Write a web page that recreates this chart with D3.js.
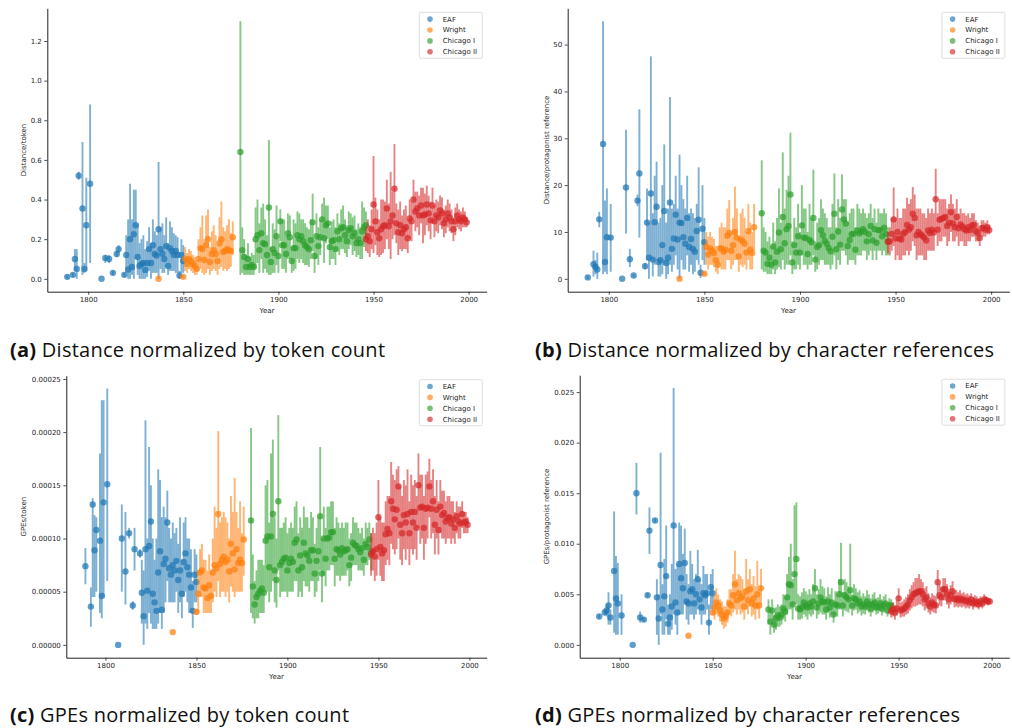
<!DOCTYPE html>
<html lang="en">
<head>
<meta charset="utf-8">
<title>Distance and GPEs over time</title>
<script src="https://cdn.jsdelivr.net/npm/d3@7"></script>
<style>
  body { margin: 0; background: #fff; }
  svg text { font-family: "DejaVu Sans", sans-serif; }
  .caption { font-family: "Open Sans", sans-serif; font-size: 20px; letter-spacing: 0.25px; fill: #111; }
</style>
</head>
<body>
<svg id="fig" width="1012" height="728"></svg>
<script>
  // years per corpus (same for all four panels)
  const eafYears = [1789, 1792, 1793, 1794, 1795, 1797, 1798, 1799, 1801, 1807, 1809, 1811, 1813, 1815, 1816,
    1819, 1820, 1821, 1822, 1823, 1824, 1825, 1826, 1827, 1828, 1829, 1830, 1831, 1832, 1833, 1834, 1835,
    1836, 1837, 1838, 1839, 1840, 1841, 1842, 1843, 1844, 1845, 1846, 1847, 1848, 1849, 1850];
  const wrightYears = [1837, 1850, 1851, 1852, 1853, 1854, 1855, 1856, 1857, 1858, 1859, 1860, 1861, 1862,
    1863, 1864, 1865, 1866, 1867, 1868, 1869, 1870, 1871, 1872, 1873, 1874, 1875, 1876];
  const chicago1Years = [1880, 1881, 1882, 1883, 1884, 1885, 1886, 1887, 1888, 1889, 1890, 1891, 1892, 1893,
    1894, 1895, 1896, 1897, 1898, 1899, 1900, 1901, 1902, 1903, 1904, 1905, 1906, 1907, 1908, 1909, 1910,
    1911, 1912, 1913, 1914, 1915, 1916, 1917, 1918, 1919, 1920, 1921, 1922, 1923, 1924, 1925, 1926, 1927,
    1928, 1929, 1930, 1931, 1932, 1933, 1934, 1935, 1936, 1937, 1938, 1939, 1940, 1941, 1942, 1943, 1944,
    1945, 1946];
  const chicago2Years = [1946, 1947, 1948, 1949, 1950, 1951, 1952, 1953, 1954, 1955, 1956, 1957, 1958, 1959,
    1960, 1961, 1962, 1963, 1964, 1965, 1966, 1967, 1968, 1969, 1970, 1971, 1972, 1973, 1974, 1975, 1976,
    1977, 1978, 1979, 1980, 1981, 1982, 1983, 1984, 1985, 1986, 1987, 1988, 1989, 1990, 1991, 1992, 1993,
    1994, 1995, 1996, 1997, 1998, 1999];

  const seriesNames = ['EAF', 'Wright', 'Chicago I', 'Chicago II'];
  const seriesColors = ['#1f77b4', '#ff7f0e', '#2ca02c', '#d62728'];

  // (a) distance / token  -- [value, low, high]
  const distTokenEAF = [[.01,0,.02],[.02,.01,.03],[.10,.04,.15],[.05,0,.15],[.52,.50,.54],[.355,.02,.69],
    [.05,.03,.08],[.27,.04,.51],[.48,.08,.88],[0,0,0],[.105,.08,.12],[.10,.08,.12],[.03,.02,.04],[.125,.11,.14],
    [.15,.13,.17],[.02,.01,.03],[.12,.03,.22],[.047,0,.3],[.20,0,.48],[.06,.02,.3],[.225,0,.45],[.27,.1,.45],
    [.11,.02,.28],[.065,0,.18],[.075,0,.2],[.08,0,.22],[.045,0,.15],[.08,.01,.19],[.15,.04,.26],[.08,0,.18],
    [.17,.03,.3],[.125,.03,.24],[.118,.03,.22],[.25,0,.59],[.15,.05,.26],[.127,.03,.28],[.10,.03,.22],
    [.165,.06,.31],[.065,.02,.18],[.155,.04,.29],[.14,.04,.26],[.12,.04,.23],[.14,.03,.22],[.12,.03,.21],
    [.017,0,.04],[.12,.03,.2],[.09,.03,.17]];
  const distTokenWright = [[0,0,0],[.01,.005,.015],[.10,.04,.16],[.075,.03,.13],[.10,.05,.15],[.09,.04,.14],
    [.075,.03,.12],[.065,.02,.11],[.05,.02,.09],[.10,.04,.2],[.155,.05,.26],[.15,.03,.32],[.095,.02,.2],
    [.17,.03,.32],[.20,.05,.35],[.085,.02,.16],[.125,.04,.24],[.145,.05,.27],[.125,.04,.22],[.09,.02,.17],
    [.18,.05,.31],[.20,.06,.39],[.135,.04,.26],[.14,.05,.24],[.15,.04,.27],[.145,.05,.3],[.14,.06,.23],[.21,.12,.29]];
  const distTokenChicago1 = [[.64,.02,1.3],[.145,.03,.26],[.11,.02,.2],[.06,.02,.12],[.10,.02,.18],[.06,.02,.11],
    [.07,.02,.13],[.06,.02,.12],[.20,.05,.36],[.22,.08,.4],[.145,.03,.28],[.23,.1,.36],[.18,.03,.38],[.175,.05,.3],
    [.12,.03,.22],[.36,.02,.7],[.085,.02,.16],[.15,.03,.28],[.13,.03,.25],[.215,.07,.37],[.115,.03,.2],[.29,.19,.35],
    [.17,.05,.3],[.17,.05,.3],[.125,.03,.22],[.23,.1,.33],[.21,.1,.32],[.09,.03,.16],[.155,.04,.3],[.155,.05,.28],
    [.22,.1,.34],[.20,.08,.33],[.215,.1,.3],[.19,.08,.3],[.17,.07,.28],[.16,.07,.26],[.15,.06,.25],[.195,.1,.3],
    [.285,.14,.43],[.115,.03,.2],[.215,.1,.33],[.165,.07,.26],[.21,.12,.3],[.30,.22,.38],[.205,.08,.41],
    [.27,.18,.37],[.28,.2,.37],[.16,.07,.26],[.19,.1,.29],[.195,.1,.3],[.15,.07,.26],[.24,.14,.33],[.20,.12,.28],
    [.255,.15,.35],[.26,.15,.37],[.22,.13,.3],[.19,.11,.27],[.245,.15,.34],[.255,.17,.33],[.215,.12,.31],
    [.23,.14,.32],[.18,.11,.25],[.20,.12,.28],[.18,.1,.26],[.24,.1,.39],[.26,.16,.36],[.27,.2,.34]];
  const distTokenChicago2 = [[.20,.14,.26],[.215,.13,.3],[.19,.11,.27],[.25,.15,.35],[.375,.13,.62],[.29,.17,.41],
    [.235,.12,.35],[.205,.11,.3],[.25,.12,.4],[.265,.13,.4],[.27,.15,.39],[.355,.2,.5],[.265,.15,.38],[.29,.1,.54],
    [.32,.2,.44],[.455,.22,.68],[.28,.18,.38],[.235,.12,.35],[.27,.15,.39],[.23,.14,.32],[.25,.15,.35],[.26,.15,.37],
    [.205,.13,.3],[.305,.2,.4],[.29,.19,.39],[.40,.3,.5],[.34,.24,.44],[.355,.26,.44],[.32,.22,.42],[.37,.28,.46],
    [.32,.18,.46],[.325,.22,.43],[.375,.27,.47],[.33,.24,.42],[.295,.2,.39],[.37,.28,.46],[.29,.21,.37],[.32,.24,.4],
    [.31,.23,.39],[.345,.27,.42],[.33,.25,.41],[.28,.21,.35],[.30,.23,.37],[.33,.26,.4],[.31,.24,.38],[.29,.23,.35],
    [.25,.19,.31],[.29,.22,.36],[.32,.26,.38],[.30,.25,.35],[.29,.24,.34],[.31,.26,.36],[.30,.26,.34],[.285,.26,.31]];

  // (b) distance / protagonist reference
  const distRefEAF = [[.3,0,.6],[3.1,.5,6],[2.6,1,4],[2,0,5.6],[12.7,11,14.3],[28.8,1,55],[3.6,1.5,16.7],[8.9,1,19.3],
    [8.8,1.5,16],[0,0,0],[19.5,9.7,31.8],[4.2,2.5,6.4],[.7,.4,1],[16.7,15.5,18],[22.5,8.8,36.2],[2.7,2,3.4],
    [12,4,19.3],[4.5,0,12],[18.2,4,47.5],[4.1,.5,14],[12.1,3,22],[15.4,4,25],[3.6,.5,12],[4,.5,13],[7.2,1,20],
    [14.5,3,28.7],[3.4,0,12],[4.5,1,15],[16.3,3,38.8],[6.4,1.5,15],[8.6,3,16],[13.7,5,22],[8.4,2,15],[12,0,26.5],
    [11.9,4,20],[8.9,2,17],[7.5,2,15],[13,5,22],[6.8,1.5,14],[8.5,3,15],[6.4,1,14],[5.8,1.5,13],[10.2,4,16],
    [12.6,3,23.8],[1.3,.2,3],[10.7,4,20],[7.8,3,13]];
  const distRefWright = [[0,0,0],[1.1,.8,1.4],[6.8,3,10],[5.2,2,9],[6.5,3,10],[6,3,9],[5.5,2.5,8.5],[4,1.5,7],
    [3,1,6],[6.5,3,11],[6.5,2,12],[5.8,2,11],[6.2,2,11],[9.2,4,15],[9.8,4,16.8],[6,2,10],[7.2,3,13],[10,4,19.7],
    [8.8,4,15],[4.8,1.5,9],[8.4,3,14],[8,2.5,15],[7.5,3,13],[5.6,2,10],[10.2,4,16],[6.2,2,12],[5.5,2,10],[11,6,16]];
  const distRefChicago1 = [[14,2,25.3],[6,1.5,11],[5.6,1.5,10],[3.2,1,8],[4.5,1,9],[3,1,7],[6.9,2,12],[3.5,1,8],
    [5.8,2,13],[9.9,2.5,19.3],[6.3,2,12],[13.2,4,27],[7.6,2,15],[10.6,3,19],[11.3,3,22],[18,5,31.2],[3.5,1,8],
    [7.2,2,13],[5.6,2,11],[9.1,3,16],[5.6,2,10],[11.4,5,20],[8.8,3,15],[8.7,3,15],[5.3,2,10],[8.3,3,16],[7.8,3,13],
    [13,5,23.3],[4.1,1.5,8],[6.8,2,12],[7.2,3,13],[10.4,4,17],[9.3,4,15],[8.1,3,14],[7.5,3,13],[6.6,3,11],[5.9,2,11],
    [9,3,16],[13.9,5,22.5],[6.3,2,11],[10.1,4,17],[7.3,3,13],[14.8,6,22.3],[12.7,6,17],[11.8,5,17],[7,3,12],
    [8.3,4,14],[9.5,4,15],[9.6,4,15],[6.2,3,11],[10.3,5,16],[9.7,5,15],[10.1,5,14],[10.6,6,15],[10,6,14],[8,4,13],
    [9.5,5,14],[11.3,6,16],[8.2,4,13],[10.6,6,15],[7.7,4,12],[10.4,6,15],[10.4,6,14],[9.1,5,14],[10.9,6,15],
    [9.6,5,14],[8,5,11]];
  const distRefChicago2 = [[7.9,5.5,10],[8,5,11],[9.6,6,13],[12.7,7,19.5],[8.6,4,13],[10,5,15],[8.6,4,13],[8.4,4,13],
    [9.6,5,15],[10,5,15],[11.5,6,17.3],[10.5,5,16],[11,6,17],[13.9,8,19.6],[13,7,18],[9.3,4,15],[10,5,15],[9.5,5,15],
    [9.2,5,14],[8.8,4,14],[8.2,4,13],[10.3,6,15],[9.8,6,14],[10.5,6,15],[9.9,6,14],[17,10,23.5],[10.5,7,14],
    [12.6,8,17],[12.8,8,17],[13,9,17],[13.2,9,17],[11.3,7,15],[12,8,16],[14.2,10,18],[11.8,8,16],[11,8,15],
    [13.2,9,17],[10.8,7,14],[11.6,8,15],[11.2,8,14],[10.6,7,14],[10.3,7,13.5],[11,8,14],[10.4,8,13],[11.4,9,14],
    [11.5,9,14],[10.2,8,12.5],[9.8,8,12],[8.7,7,10.5],[10.8,9,12.5],[10.9,9,12.5],[10.5,9,12],[11,9.5,12.5],
    [10.4,9.5,11.5]];

  // (c) GPEs / token, in units of 1e-5
  const gpeTokenUnit = 1e-5;
  const gpeTokenEAF = [[7.4,5.7,9.1],[3.6,1.7,5.4],[13.2,4.5,13.8],[8.9,4.5,12.2],[10.8,5,12],[9.8,3,18],[4.6,2.5,23],
    [13.4,4.5,23],[15.1,6,24.1],[0,0,0],[10,5,13.2],[6.9,3.8,12.5],[10.5,10,11],[3.7,3.3,4.1],[9,7,11],[8.6,8.2,9],
    [4.9,2,8],[2.7,0,7],[9,2,21.1],[5.1,1.5,10],[9.3,3,18.6],[11.6,2,15],[4.8,1.5,10],[4,1.5,8],[3.2,1.5,10],
    [6.8,2,16.5],[8.8,3,15.5],[3.3,1.5,12],[7.6,3,13],[8.1,4,12],[11.5,6,14.5],[7.2,4,11],[6.6,4,10],[7.5,4,11.5],
    [7,4,10.5],[7.9,5,11],[6.1,3,9.5],[7,4,12],[4.8,2.5,8],[7.8,4.5,11.5],[8.6,5,12],[7.3,4,10],[6.6,3,10],
    [5.4,3,9],[3.2,1.6,6],[6.6,4,9],[5.9,4,8.5]];
  const gpeTokenWright = [[1.2,1.2,1.2],[3.1,2.8,3.4],[4.8,3,7],[6.8,4.5,9],[7,4.5,9.5],[5.4,3,8],[5.3,3,8],[4.4,3,7],
    [5.6,3,8.5],[4.6,3,7],[6.8,4,10],[7.5,5,13],[7.2,4.5,11],[12.3,6,20.1],[7.6,4.5,11.5],[8,5,12],[8.3,5,12.5],
    [7.8,4.5,12],[8,5,11.5],[6.9,4,10],[9.5,5.5,14],[8.6,5,12.5],[7.1,4.5,15.7],[9,5,12.5],[7.7,5,11],[8,5,13.5],
    [7.7,5,10.5],[9.9,6.5,13]];
  const gpeTokenChicago1 = [[11.7,3,20.4],[5.5,2.5,8.5],[3.8,2,6],[4.5,2.5,7],[4.8,2.5,8],[5.1,3,8],[5.3,3,8],
    [4.9,3,7.5],[9.8,5,15],[10.2,5,15.5],[7.3,4,11.5],[10.2,5,18],[12.3,6,19.3],[7,4,12],[6.1,3.5,10],[13.5,7,21.6],
    [7.5,4.5,11],[7.8,5,11],[8.1,5,11.5],[8.2,5,12],[7,4.5,10.5],[7.7,5,11],[8.1,5,11.5],[7.8,5,11],[9.6,6,13],
    [9.9,6,13.5],[7,4.5,10.5],[8.4,5,12],[7.3,4.5,11],[9.6,6,13],[8.6,5.5,12],[8.4,5.5,12],[7.9,5,11],[8.9,6,12.5],
    [8.9,6,12],[6.7,4.5,9.5],[7.9,5,11],[8.8,6,12],[12.1,7,18.6],[6.7,4,10],[10,6.5,13],[8.1,5.5,11],[10,7,13],
    [10.1,7,13],[10.6,7.5,13.5],[10.6,7.5,13.5],[8.1,5.5,11],[9,6.5,12],[8.9,6.5,11.5],[8.5,6,11],[9.1,6.5,11.5],
    [8.8,6.5,11],[8.9,6.5,11.5],[9,7,11.5],[7.5,5.5,10],[8.2,6,10.5],[9.6,7.5,12],[9.4,7.5,11.5],[9.3,7.5,11.5],
    [9,7,11],[8.7,7,10.5],[9.1,7,11],[8,6.5,10],[9.5,7.5,11.5],[9.2,7.5,11],[9.9,8,11.5],[8.7,7,10.5]];
  const gpeTokenChicago2 = [[8.5,6.5,10.5],[8.8,7,11],[8.3,6,10.5],[9,6.5,11.5],[12,8,15.5],[9.2,6.5,12],[8.6,6,11.5],
    [8.9,6,11.5],[10.4,7.5,13.5],[10.9,8,14],[10.5,7.5,14],[13.5,9.5,17.2],[12.8,9,16],[11.8,8.5,15.5],[12.7,9,16.5],
    [14.9,10,16.8],[11.3,8,15],[10.5,7.5,14],[12.2,9,15.5],[11.5,8,15],[12.3,9,16.5],[10.5,7.5,13.5],[12.5,9,16],
    [11.5,8.5,15],[12.5,9,15.5],[11,8,14],[15,11,18],[12.9,9.5,16],[13,10,16],[11,8,14],[12.8,9.5,16],[12.9,10,16.3],
    [14.9,12,17.5],[12.8,10,15.5],[13.5,10.5,16.5],[11.3,8.5,14],[12.7,10,15.5],[10.8,8.5,13.5],[13,10.5,15.5],
    [12.2,10,14.5],[12.4,10,14.5],[11.6,9.5,13.5],[11.9,10,14],[12,10,14],[11.4,9.5,13.5],[11.8,10,13.5],
    [11,9.5,12.5],[12.1,10.5,13.5],[11.6,10,13],[11.4,10,13],[12.3,11,13.5],[11.5,10.5,12.5],[11.6,10.5,12.5],
    [11.3,10.5,12]];

  // (d) GPEs / protagonist reference, in units of 1e-3
  const gpeRefUnit = 1e-3;
  const gpeRefEAF = [[2.8,2.6,3],[3.2,3,3.4],[3.4,2.8,4],[3.9,2,5.2],[2.7,2,3.5],[7.3,1.2,13.2],[4.6,1,8.8],
    [4.1,1,8.1],[2.9,1,5],[0,0,0],[15,12.9,18],[2.7,2.2,3.3],[2.5,2.3,2.7],[4.9,4.7,5.1],[11.3,9,13.6],
    [12.3,12.1,12.5],[4.7,1,6.5],[2.6,0,5],[7.9,3,19],[3.5,1,6],[4.8,1,8.5],[6.8,2.5,11.8],[2.1,1,4],[2.7,1,5],
    [3.8,1.5,8],[11.8,3,25.4],[4.2,2,7.5],[3.2,1,8],[8,3,12.1],[6.6,3,11.8],[5.6,3,9],[8.1,4,11.5],[4.3,2.5,7],
    [4.1,2,6],[5.3,3,9.3],[5.5,3,8],[4.1,2.5,6.5],[5,3,7],[6.5,3.5,9.4],[4.5,3,6.5],[3.7,2,6],[5.1,3,7.8],
    [4.9,3,7],[5.1,3.5,7],[2.2,1,4],[5.7,3.5,7],[5.1,3.5,7.5]];
  const gpeRefWright = [[.9,.9,.9],[3.2,3,3.4],[3.7,2.5,5],[4.2,3,5.6],[3.9,2.8,5],[3.4,2.3,4.5],[3,2,4.3],
    [2.6,1.6,3.8],[2.8,1.8,3.8],[3.2,2.2,4.5],[4.1,3,5.5],[3.9,2.8,5.5],[4.9,3.2,7],[6,3.5,9.3],[4.4,3,6.5],
    [5.1,3.5,7],[4.6,3,6.8],[4.8,3.2,6.5],[3.8,2.5,5.5],[5.3,3.5,8.5],[4.4,3,6.5],[5.5,3.8,7.5],[4.1,2.8,6],
    [4.6,3,6.8],[3.9,2.5,5.8],[5,3.5,8.3],[3.9,2.6,5.5],[5.6,4,7.5]];
  const gpeRefChicago1 = [[3.5,2,4.5],[2.3,1,3.5],[3.4,2,4.5],[2,1.2,3],[2.6,1.5,3.7],[2.9,1.8,4],[2.7,1.8,3.8],
    [3,2,4],[3.6,2.5,5],[3.3,2.3,4.8],[4.7,3,7],[6,3.5,8.7],[5.9,3.5,10],[4,2.5,6.5],[7,4,13.8],[8.5,4,14.1],
    [3.6,2.5,5],[3.5,2.5,4.8],[3.7,2.6,5.2],[4.2,3,5.6],[3.9,2.8,5.3],[3.7,2.5,5],[4.1,3,5.5],[3.8,2.8,5],[4.3,3,6],
    [5.6,4,7.5],[3.7,2.6,5],[4.1,3,5.5],[4.7,3.2,6.5],[4.3,3,5.8],[4.2,3,5.6],[3.5,2.5,4.8],[4.3,3.2,5.7],
    [3.7,2.7,5],[4.2,3,5.6],[3,2.2,4],[4,2.9,5.3],[3.9,2.8,5],[5,3.5,6.5],[6.2,3.5,10.1],[3.9,2.8,5.2],[4.9,3.4,6.5],
    [4.7,3.3,6.2],[4.5,3.2,5.8],[5.4,3.5,10],[3.9,2.9,5],[4.6,3.4,6],[4.5,3.5,5.6],[4.1,3.1,5.2],[4.3,3.3,5.4],
    [3.8,2.9,4.8],[4,3.1,5.1],[3.8,3,4.8],[4.3,3.4,5.4],[4,3.2,5],[3.6,2.8,4.6],[4,3.2,5],[4.2,3.4,5.2],[3.7,3,4.6],
    [3.8,3.1,4.7],[4.1,3.3,5],[3.6,2.9,4.5],[3.9,3.2,4.8],[4.1,3.3,5],[3.4,2.8,4.2],[3.9,3.2,4.6],[3.9,3.3,4.5]];
  const gpeRefChicago2 = [[3.3,2.7,3.9],[3.5,2.8,4.2],[3.2,2.5,3.9],[3.6,2.9,4.4],[4.6,3.5,5.6],[3.4,2.7,4.2],
    [3.5,2.8,4.3],[3.6,2.8,4.5],[3.8,3,4.7],[4,3.1,5],[4.4,3.4,5.5],[4.7,3.6,5.9],[5,3.8,6.2],[5.1,3.8,6.6],
    [5.2,3.9,6.6],[5.3,4,7],[5.3,4,6.5],[5,3.8,6.2],[4.5,3.4,5.6],[4.7,3.6,5.8],[4.1,3.2,5.1],[3.8,3,4.7],
    [4.2,3.3,5.1],[4,3.2,4.9],[3.9,3.1,4.8],[6.2,4.5,7.4],[4.9,3.9,6],[4.7,3.8,5.7],[5.5,4.4,6.6],[5.5,4.4,6.6],
    [5,4,6],[4.5,3.6,5.5],[4.9,4,5.9],[5.3,4.3,6.3],[4.5,3.7,5.4],[4.6,3.8,5.4],[4.4,3.7,5.2],[4.6,3.8,5.4],
    [4.4,3.7,5.1],[4.5,3.8,5.2],[4.3,3.6,5],[4.4,3.7,5.1],[4.2,3.6,4.9],[4.5,3.9,5.1],[4.1,3.5,4.7],[4.3,3.7,4.9],
    [4.2,3.7,4.8],[4,3.5,4.6],[4.3,3.8,4.8],[4.1,3.6,4.6],[4.5,4,5],[4.4,4,4.8],[4.3,3.9,4.7],[4.3,4,4.6]];

  const yearSets = [eafYears, wrightYears, chicago1Years, chicago2Years];

  const panels = [
    { box: { l: 47.3, r: 486.7, t: 8.3, b: 291.7 }, ylabel: 'Distance/token', ylabelX: 25.5,
      tag: '(a)', caption: ' Distance normalized by token count', capX: 10, capY: 357,
      series: [distTokenEAF, distTokenWright, distTokenChicago1, distTokenChicago2],
      fmt: t => t.toFixed(1) },
    { box: { l: 567.7, r: 1009.3, t: 8.3, b: 291.7 }, ylabel: 'Distance/protagonist reference', ylabelX: 549,
      tag: '(b)', caption: ' Distance normalized by character references', capX: 535, capY: 357,
      series: [distRefEAF, distRefWright, distRefChicago1, distRefChicago2],
      fmt: t => d3.format('d')(t) },
    { box: { l: 66.3, r: 486.7, t: 375.7, b: 657.7 }, ylabel: 'GPEs/token', ylabelX: 25.5,
      tag: '(c)', caption: ' GPEs normalized by token count', capX: 10, capY: 722,
      series: [gpeTokenEAF, gpeTokenWright, gpeTokenChicago1, gpeTokenChicago2],
      fmt: t => (t * gpeTokenUnit).toFixed(5) },
    { box: { l: 579.7, r: 1009.3, t: 375.2, b: 657.7 }, ylabel: 'GPEs/protagonist reference', ylabelX: 549,
      tag: '(d)', caption: ' GPEs normalized by character references', capX: 535, capY: 722,
      series: [gpeRefEAF, gpeRefWright, gpeRefChicago1, gpeRefChicago2],
      fmt: t => (t * gpeRefUnit).toFixed(3) }
  ];

  const svg = d3.select('#fig');
  const allYears = yearSets.flat();

  panels.forEach(drawPanel);

  function drawPanel(p) {
    const g = svg.append('g');
    const { l, r, t, b } = p.box;

    // matplotlib style 5% margins around data (error bars included)
    const rows = p.series.flat();
    const yMin = d3.min(rows, d => d[1]), yMax = d3.max(rows, d => d[2]);
    const yPad = (yMax - yMin) * 0.05;
    const xMin = d3.min(allYears), xMax = d3.max(allYears);
    const xPad = (xMax - xMin) * 0.05;

    const x = d3.scaleLinear().domain([xMin - xPad, xMax + xPad]).range([l, r]);
    const y = d3.scaleLinear().domain([yMin - yPad, yMax + yPad]).range([b, t]);

    p.series.forEach((rowsS, si) => {
      const pts = rowsS.map((d, i) => ({ year: yearSets[si][i], v: d[0], lo: d[1], hi: d[2] }));
      const sg = g.append('g');
      sg.selectAll('line.err').data(pts).join('line')
        .attr('class', 'err')
        .attr('x1', d => x(d.year)).attr('x2', d => x(d.year))
        .attr('y1', d => y(d.lo)).attr('y2', d => y(d.hi))
        .attr('stroke', seriesColors[si])
        .attr('stroke-width', 1.9)
        .attr('stroke-opacity', 0.58);
      sg.selectAll('circle').data(pts).join('circle')
        .attr('cx', d => x(d.year)).attr('cy', d => y(d.v))
        .attr('r', 3.2)
        .attr('fill', seriesColors[si])
        .attr('fill-opacity', 0.72);
    });

    // axes (left + bottom spines only)
    const yTicks = y.ticks(7).filter(v => v >= y.domain()[0] && v <= y.domain()[1]);
    const xAxis = g.append('g').attr('transform', `translate(0,${b})`)
      .call(d3.axisBottom(x).ticks(5).tickFormat(d3.format('d')).tickSize(3).tickSizeOuter(0).tickPadding(2.5));
    const yAxis = g.append('g').attr('transform', `translate(${l},0)`)
      .call(d3.axisLeft(y).tickValues(yTicks).tickFormat(p.fmt).tickSize(3).tickSizeOuter(0).tickPadding(2.5));
    [xAxis, yAxis].forEach(ax => {
      ax.attr('font-family', '"DejaVu Sans", sans-serif').attr('font-size', 7);
      ax.select('.domain').attr('stroke', '#222').attr('stroke-width', 1);
      ax.selectAll('.tick line').attr('stroke', '#222').attr('stroke-width', 0.8);
      ax.selectAll('.tick text').attr('fill', '#262626');
    });

    g.append('text')
      .attr('x', (l + r) / 2).attr('y', b + 21)
      .attr('text-anchor', 'middle').attr('font-size', 7).attr('fill', '#262626')
      .text('Year');

    g.append('text')
      .attr('transform', `translate(${p.ylabelX},${(t + b) / 2}) rotate(-90)`)
      .attr('text-anchor', 'middle').attr('font-size', 7).attr('fill', '#262626')
      .text(p.ylabel);

    // legend, upper right
    const lg = g.append('g').attr('transform', `translate(${r - 67.4},${t + 4})`);
    lg.append('rect')
      .attr('width', 63).attr('height', 46).attr('rx', 1.5)
      .attr('fill', '#fff').attr('fill-opacity', 0.8)
      .attr('stroke', '#d6d6d6').attr('stroke-width', 0.8);
    seriesNames.forEach((name, i) => {
      lg.append('circle')
        .attr('cx', 10.7).attr('cy', 6.8 + i * 10.9).attr('r', 2.8)
        .attr('fill', seriesColors[i]).attr('fill-opacity', 0.65);
      lg.append('text')
        .attr('x', 23.4).attr('y', 6.8 + i * 10.9 + 2.5)
        .attr('font-size', 7).attr('fill', '#262626')
        .text(name);
    });

    // sub-caption
    const cap = svg.append('text').attr('class', 'caption')
      .attr('x', p.capX).attr('y', p.capY);
    cap.append('tspan').attr('font-weight', 700).text(p.tag);
    cap.append('tspan').text(p.caption);
  }
</script>
</body>
</html>
